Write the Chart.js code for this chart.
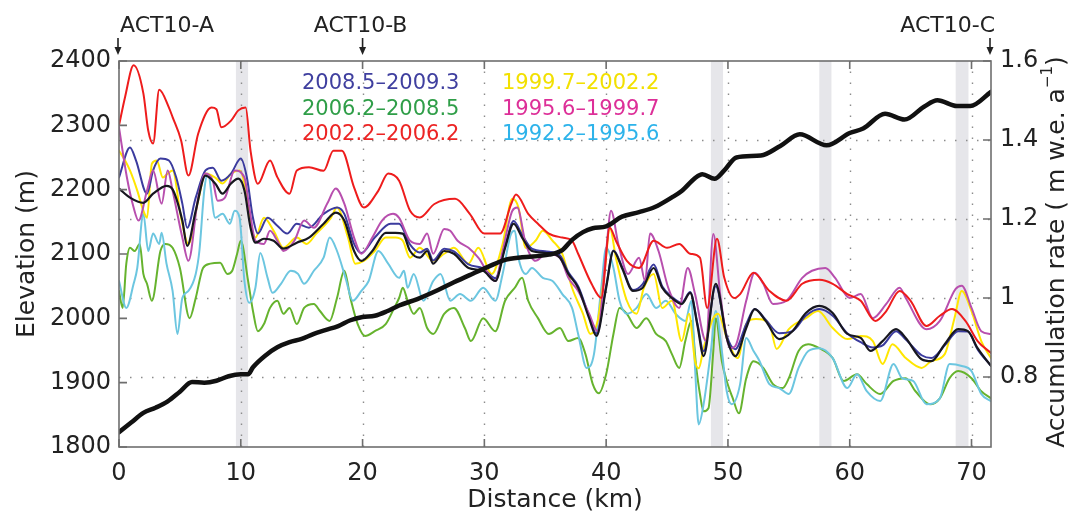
<!DOCTYPE html>
<html><head><meta charset="utf-8">
<script src="https://cdn.jsdelivr.net/npm/chart.js@4"></script>
<style>html,body{margin:0;padding:0;background:#fff}#wrap{width:1072px;height:515px;position:relative}</style>
</head><body><div id="wrap"><canvas id="c"></canvas></div>
<script>
// ---------- data ----------
const xTicks = [0,10,20,30,40,50,60,70];
const elevTicks = [1800,1900,2000,2100,2200,2300,2400];
const accTicks = [0.8,1,1.2,1.4,1.6];
const periods = ['2008.5–2009.3','2006.2–2008.5','2002.2–2006.2','1999.7–2002.2','1995.6–1999.7','1992.2–1995.6'];
const sites = ['ACT10-A','ACT10-B','ACT10-C'];
const siteKm = [0,20,71.6];
const bandsKm = [[9.6,10.6],[48.6,49.6],[57.5,58.5],[68.7,69.75]];

const elevKm = [0,1,2,3,4,5,6,7,8,9,10,10.6,11,12,13,14,15,16,17,18,19,20,21,22,23,24.5,26.2,27.5,29,30.3,31.7,33.1,35.3,36.4,37.2,38.1,38.9,40,41.3,42.7,44,45.4,46.2,47.3,47.9,48.9,49.7,50.7,52.7,54.3,55.9,58.1,60,61.1,62.9,64.5,66.1,67.2,68.8,69.9,71.6];
const elevM = [1823,1838,1853,1861,1871,1886,1901,1900,1903,1910,1913,1913,1924,1942,1955,1963,1968,1976,1982,1988,1997,2002,2004,2011,2020,2030,2044,2056,2069,2080,2091,2095,2099,2106,2122,2134,2140,2143,2158,2165,2173,2188,2198,2218,2224,2217,2230,2250,2253,2268,2286,2269,2288,2295,2318,2309,2329,2339,2330,2330,2352];

const meanKm = [0,0.9,2,2.8,3.9,4.4,5.2,5.6,6.3,7.1,7.9,8.5,9.2,9.8,10.3,10.8,11.2,11.9,12.7,13.5,14.6,15.6,16.8,17.8,18.5,19.3,19.9,20.8,21.9,22.7,23.3,23.9,24.7,25.3,25.8,26.7,27.5,28.7,29.9,30.9,31.7,32.4,33.1,33.9,35.1,36.2,36.9,37.7,38.6,39.2,40,40.6,41.3,42.2,43,43.9,44.6,45.4,46.2,46.9,47.5,48,49,49.9,50.6,51.5,52.2,53.1,54.2,55.3,56.4,57.5,58.6,59.8,60.9,61.7,62.7,63.8,64.6,65.9,66.7,67.8,68.9,69.7,70.5,71.6];
const meanAcc = [1.277,1.254,1.241,1.264,1.284,1.275,1.196,1.132,1.221,1.310,1.290,1.264,1.290,1.302,1.272,1.178,1.140,1.150,1.145,1.125,1.140,1.153,1.188,1.216,1.196,1.119,1.094,1.119,1.165,1.165,1.163,1.119,1.102,1.119,1.087,1.119,1.112,1.076,1.069,1.043,1.127,1.188,1.153,1.119,1.114,1.102,1.061,1.026,0.949,0.904,1.026,1.119,1.076,1.018,1.026,1.076,1.026,1.000,0.985,1.013,0.930,0.853,1.036,0.899,0.853,0.924,0.972,0.942,0.896,0.916,0.962,0.980,0.962,0.909,0.899,0.866,0.891,0.921,0.899,0.845,0.840,0.883,0.921,0.916,0.873,0.828];

const blueKm = [0,0.9,1.4,2.3,2.8,3.4,4.1,4.7,5.2,5.6,6.3,7.1,7.7,8.4,9.2,10,10.5,11,11.4,12.2,13,13.8,14.6,15.6,16.8,17.9,18.5,19.3,19.9,21,22.3,23,23.9,24.7,25.3,25.8,26.7,27.5,28.7,29.9,30.9,31.7,32.4,33.1,33.9,35.1,36.2,36.9,37.7,38.6,39.2,40,40.6,41.3,42.2,43,43.9,44.6,45.4,46.2,46.9,47.5,48,49,49.9,50.6,51.5,52.2,53.1,54.2,55.3,56.4,57.5,58.6,59.8,60.9,61.9,62.7,63.8,64.6,65.9,66.7,67.8,68.9,69.7,70.5,71.6];
const blueAcc = [1.305,1.381,1.348,1.264,1.323,1.353,1.348,1.305,1.239,1.178,1.254,1.323,1.330,1.297,1.315,1.353,1.305,1.203,1.163,1.203,1.183,1.163,1.188,1.178,1.213,1.229,1.213,1.137,1.114,1.153,1.188,1.188,1.135,1.115,1.125,1.095,1.125,1.118,1.085,1.075,1.050,1.130,1.195,1.160,1.125,1.118,1.108,1.065,1.030,0.955,0.910,1.030,1.120,1.080,1.020,1.035,1.085,1.030,1.003,0.988,1.015,0.935,0.865,1.030,0.905,0.870,0.934,0.972,0.945,0.911,0.916,0.955,0.972,0.955,0.911,0.888,0.875,0.880,0.916,0.895,0.855,0.848,0.880,0.916,0.915,0.870,0.828];

const greenKm = [0,0.3,0.6,0.9,1.3,1.7,2,2.3,2.7,3.4,3.8,4.4,5,5.8,6.3,6.9,7.5,8.3,8.9,9.3,9.7,10,10.6,11,11.4,11.9,12.4,13,13.5,14,14.6,15.2,16,16.5,17.3,17.9,18.5,19,19.6,20.2,21,21.9,22.6,23,23.3,23.7,24.2,24.7,25.3,25.8,26.7,27.5,28.4,28.9,29.9,30.9,31.7,32.5,33.1,33.6,34.4,35.3,36.2,36.9,37.7,38.3,38.9,39.4,40,40.6,41.1,41.7,42.5,43.3,44.1,44.9,45.4,46,46.5,47,47.4,47.7,48,48.4,48.8,49,49.5,49.9,50.4,50.9,51.5,52.1,52.9,53.7,54.5,55,55.8,56.6,57.5,58.6,59.5,60.6,61.4,62.5,63.6,64.6,65.4,66.6,67.4,68.2,68.9,70,70.8,71.6];
const greenAcc = [1.018,0.975,1.087,1.127,1.119,1.137,1.061,1.036,0.993,1.119,1.137,1.127,1.076,0.949,1.000,1.076,1.087,1.089,1.061,1.069,1.112,1.145,1.043,0.967,0.916,0.934,0.975,0.993,0.960,0.975,0.934,0.975,0.985,0.967,0.942,1.000,1.069,1.000,0.934,0.904,0.916,0.934,0.975,1.000,1.026,0.993,0.960,0.975,0.924,0.909,0.960,0.975,0.924,0.891,0.949,0.916,0.993,1.026,1.051,0.993,0.949,0.909,0.924,0.891,0.899,0.858,0.782,0.759,0.807,0.909,0.975,0.960,0.924,0.949,0.909,0.891,0.858,0.823,0.891,0.942,0.823,0.757,0.713,0.721,0.866,0.949,0.840,0.790,0.746,0.708,0.797,0.840,0.823,0.782,0.772,0.797,0.866,0.883,0.873,0.848,0.790,0.807,0.782,0.757,0.790,0.797,0.764,0.731,0.746,0.797,0.815,0.797,0.764,0.746];

const redKm = [0,0.5,1.2,2,2.4,2.8,3.3,4.1,4.4,5.1,5.7,6.5,7.6,8,8.4,9.2,9.8,10.4,10.8,11.4,12.4,13,14,14.6,15.6,16.8,17.6,18.3,19.3,20.1,21.3,22.1,23,23.9,24.7,25.9,27.6,28.8,30,31.3,32.2,32.6,33.6,34.4,35.3,36.4,37.2,37.7,38.8,39.6,40.3,40.8,41.7,42.7,43.9,45,46,46.9,47.7,48.3,49.1,49.7,50.5,51,52.1,53.4,54.8,56.1,57.5,58.6,59.8,60.9,62.1,63,64.1,65,66.3,67.4,68.4,69.5,70.5,71.6];
const redAcc = [1.437,1.509,1.589,1.518,1.424,1.391,1.527,1.482,1.458,1.399,1.310,1.416,1.482,1.478,1.432,1.449,1.475,1.482,1.373,1.289,1.348,1.306,1.264,1.323,1.331,1.322,1.373,1.373,1.280,1.229,1.272,1.315,1.297,1.221,1.204,1.238,1.251,1.213,1.163,1.163,1.238,1.262,1.213,1.188,1.163,1.153,1.145,1.112,1.036,1.000,1.178,1.145,1.094,1.076,1.145,1.127,1.137,1.112,1.102,0.975,1.150,1.051,1.000,1.010,1.064,1.018,0.993,1.036,1.046,1.036,1.010,0.993,0.942,0.967,1.018,0.993,0.929,0.955,0.972,0.942,0.891,0.861];

const yellowKm = [0,0.5,0.9,1.5,2,2.3,2.7,3.1,3.6,4,4.4,5.1,5.7,6.5,7.1,7.9,8.5,9.2,9.9,10.3,10.8,11.2,11.9,12.7,13.5,14.6,15.4,16.2,17.4,17.9,18.8,19.4,20.1,21,21.9,22.7,23.3,23.9,24.7,25.8,26.7,27.5,28.7,29.5,30.6,31.5,32.3,32.8,33.4,34.2,34.8,35.6,36.4,37.2,38.1,38.7,39.3,39.9,40.3,40.8,41.7,42.5,43.1,43.9,44.6,45.4,46.2,46.8,47.3,47.6,48,48.8,49.2,49.9,50.8,51.5,52.3,53.4,54,55,56.4,57.4,58.6,59.8,60.9,61.9,62.7,63.5,64.6,65.9,66.7,67.8,68.6,69.2,70,70.8,71.6];
const yellowAcc = [1.373,1.348,1.323,1.272,1.221,1.203,1.340,1.348,1.305,1.315,1.323,1.203,1.137,1.246,1.315,1.305,1.290,1.315,1.323,1.290,1.188,1.153,1.203,1.170,1.127,1.153,1.137,1.163,1.203,1.229,1.153,1.087,1.094,1.119,1.153,1.153,1.145,1.102,1.127,1.094,1.112,1.127,1.087,1.127,1.061,1.137,1.251,1.229,1.127,1.145,1.170,1.145,1.112,1.026,0.960,0.909,0.942,1.076,1.178,1.102,0.993,0.960,1.026,1.061,0.975,0.993,0.891,0.960,0.840,0.822,0.873,0.949,0.960,0.899,0.848,0.934,0.947,0.934,0.871,0.921,0.949,0.967,0.924,0.896,0.904,0.891,0.833,0.883,0.848,0.823,0.840,0.858,0.949,1.018,0.967,0.891,0.848];

const magentaKm = [0,0.65,1.2,1.6,2.3,2.8,3.5,4,4.4,5.2,5.7,6.5,7.1,7.7,8.1,8.7,9.5,10.3,10.7,11.2,11.9,12.4,13,13.5,14.4,15.2,16,17.1,17.8,18.5,19.3,19.9,20.8,21.6,22.5,23,23.9,24.7,25.3,25.8,26.7,27.2,27.8,28.7,29.5,30.9,31.5,32.3,32.7,33.4,34.2,35.1,36.2,36.9,37.7,38.6,39.3,40,40.4,41,41.8,42.7,43.2,43.6,44.3,45.1,46,46.7,47.3,48.2,48.8,49.4,50.2,50.6,51.5,52.2,52.9,53.7,54.8,56.1,56.9,58,58.8,60,60.9,61.9,63,64.1,64.6,66.3,67.4,68.7,69.2,70,70.8,71.6];
const magentaAcc = [1.432,1.305,1.229,1.196,1.272,1.323,1.239,1.323,1.272,1.153,1.094,1.254,1.315,1.297,1.246,1.254,1.323,1.305,1.229,1.145,1.137,1.170,1.145,1.119,1.145,1.196,1.178,1.239,1.277,1.239,1.153,1.112,1.153,1.196,1.213,1.203,1.145,1.137,1.163,1.112,1.175,1.170,1.145,1.127,1.102,1.043,1.119,1.221,1.229,1.137,1.094,1.112,1.102,1.051,1.018,0.960,0.916,1.119,1.221,1.137,1.061,1.102,1.043,1.163,1.119,1.026,0.975,1.076,1.010,0.891,1.162,1.000,0.873,0.878,0.993,1.064,1.036,0.985,0.993,1.051,1.069,1.076,1.051,1.000,1.010,0.949,0.985,1.026,1.000,0.921,0.942,1.023,1.031,0.975,0.916,0.909];

const cyanKm = [0,0.6,1.2,1.5,2,2.4,2.8,3.3,3.5,3.9,4.4,4.8,5.2,5.7,6.3,6.6,7,7.3,7.9,8.5,9.1,9.5,9.9,10.3,10.7,11.2,11.6,12.2,12.6,13.3,14.1,14.7,15.2,16,16.8,17.3,17.9,18.6,19.2,19.9,20.5,21.3,22.1,23,23.4,23.7,24.2,25,25.8,26.4,27.2,28,28.9,29.9,30.9,31.5,32.2,32.5,32.8,33.4,33.9,34.8,35.6,36.4,37.2,37.7,38.4,39,39.6,40,40.6,41.1,41.7,42.5,43.3,44.1,44.9,45.7,46.5,47,47.3,47.6,48,48.6,49,49.5,49.9,50.3,51,51.5,52.1,52.6,53.4,54.2,55,55.8,56.6,57.5,58.6,59.8,60.6,61.4,62.5,63.6,64.3,65.2,66.3,67.4,68.2,69.2,70,70.8,71.6];
const cyanAcc = [1.043,0.975,1.036,1.076,1.213,1.119,1.163,1.137,1.165,1.087,1.018,0.909,1.000,1.018,1.061,1.119,1.272,1.315,1.203,1.213,1.188,1.221,1.203,1.043,0.988,1.026,1.114,1.051,1.013,1.036,1.069,1.061,1.036,1.069,1.102,1.153,1.119,1.051,0.993,1.018,1.043,1.119,1.087,1.051,1.069,1.026,1.061,0.993,1.043,1.061,0.993,1.010,0.993,1.026,0.993,1.061,1.163,1.170,1.102,1.061,1.076,1.051,1.043,1.010,0.975,0.909,0.823,0.858,1.026,1.127,1.076,0.993,0.960,0.975,1.010,0.975,0.993,0.960,0.942,0.993,0.823,0.680,0.731,0.866,0.967,0.866,0.764,0.731,0.782,0.899,0.866,0.840,0.782,0.772,0.757,0.823,0.866,0.873,0.848,0.772,0.807,0.764,0.739,0.833,0.797,0.790,0.731,0.746,0.833,0.828,0.815,0.757,0.739];

// ---------- styling ----------
const FONT = "'DejaVu Sans', 'Liberation Sans', sans-serif";
const TXT = '#222';
const lineColors = ['#3b3b9e','#66b32e','#ee1c1c','#ffe600','#b84fae','#6cc6e0'];
const legendColors = ['#3f3f9f','#2f9e48','#ec2424','#f2e000','#dd2f98','#2db3ea'];
const seriesKm = [blueKm, greenKm, redKm, yellowKm, magentaKm, cyanKm];
const seriesAcc = [blueAcc, greenAcc, redAcc, yellowAcc, magentaAcc, cyanAcc];
const seriesOrder = [4, 7, 2, 5, 3, 6];

function pts(k, v) { return k.map((x, i) => ({ x: x, y: v[i] })); }

const datasets = [];
datasets.push({ label: 'Elevation', data: pts(elevKm, elevM), yAxisID: 'yElev', borderColor: '#111', borderWidth: 4.5, order: 0, cubicInterpolationMode: 'monotone' });
datasets.push({ label: 'Mean', data: pts(meanKm, meanAcc), yAxisID: 'yAcc', borderColor: '#17171f', borderWidth: 2.2, order: 1, cubicInterpolationMode: 'monotone' });
periods.forEach((p, i) => {
  datasets.push({ label: p, data: pts(seriesKm[i], seriesAcc[i]), yAxisID: 'yAcc', borderColor: lineColors[i], borderWidth: 2, order: seriesOrder[i], cubicInterpolationMode: 'monotone' });
});
datasets.forEach(d => { d.pointRadius = 0; d.fill = false; d.borderJoinStyle = 'round'; d.borderCapStyle = 'round'; });

const decor = {
  id: 'decor',
  beforeDatasetsDraw(chart) {
    const { ctx, chartArea: a, scales } = chart;
    const x = scales.x, yA = scales.yAcc;
    ctx.save();
    ctx.fillStyle = '#e6e6ea';
    bandsKm.forEach(b => {
      const x0 = x.getPixelForValue(b[0]), x1 = x.getPixelForValue(b[1]);
      ctx.fillRect(x0, a.top, x1 - x0, a.bottom - a.top);
    });
    ctx.strokeStyle = '#8c8c8c'; ctx.lineWidth = 1.4; ctx.setLineDash([1.5, 9.5]);
    xTicks.forEach(v => {
      if (v <= 0) return;
      const px = Math.round(x.getPixelForValue(v)) + 0.5;
      ctx.beginPath(); ctx.moveTo(px, a.bottom); ctx.lineTo(px, a.top); ctx.stroke();
    });
    accTicks.forEach(v => {
      if (v >= 1.6) return;
      const py = Math.round(yA.getPixelForValue(v)) + 0.5;
      ctx.beginPath(); ctx.moveTo(a.left, py); ctx.lineTo(a.right, py); ctx.stroke();
    });
    ctx.restore();
  },
  afterDatasetsDraw(chart) {
    const { ctx, chartArea: a, scales } = chart;
    const x = scales.x, yE = scales.yElev, yA = scales.yAcc;
    ctx.save();
    // frame
    ctx.strokeStyle = '#6e6e6e'; ctx.lineWidth = 1.6; ctx.setLineDash([]);
    ctx.strokeRect(a.left, a.top, a.right - a.left, a.bottom - a.top);
    // inward ticks
    const TL = 8;
    ctx.beginPath();
    xTicks.forEach(v => {
      const px = x.getPixelForValue(v);
      ctx.moveTo(px, a.bottom); ctx.lineTo(px, a.bottom - TL);
      ctx.moveTo(px, a.top); ctx.lineTo(px, a.top + TL);
    });
    elevTicks.forEach(v => { const py = yE.getPixelForValue(v); ctx.moveTo(a.left, py); ctx.lineTo(a.left + TL, py); });
    accTicks.forEach(v => { const py = yA.getPixelForValue(v); ctx.moveTo(a.right, py); ctx.lineTo(a.right - TL, py); });
    ctx.stroke();

    // legend (coloured text)
    ctx.font = '21px ' + FONT; ctx.textBaseline = 'middle'; ctx.textAlign = 'left';
    const colX = [302, 502], rowY = [84, 110, 135];
    periods.forEach((p, i) => {
      ctx.fillStyle = legendColors[i];
      ctx.fillText(p, colX[Math.floor(i / 3)], rowY[i % 3]);
    });

    // site labels and arrows
    ctx.fillStyle = TXT; ctx.strokeStyle = TXT; ctx.font = '22px ' + FONT;
    siteKm.forEach((km, i) => {
      let px = x.getPixelForValue(km);
      if (i === 0) px -= 1;
      if (i === 2) px -= 1;
      ctx.lineWidth = 1.6;
      ctx.beginPath(); ctx.moveTo(px, 38); ctx.lineTo(px, 49); ctx.stroke();
      ctx.beginPath(); ctx.moveTo(px - 3.5, 47); ctx.lineTo(px + 3.5, 47); ctx.lineTo(px, 55); ctx.closePath(); ctx.fill();
      ctx.textBaseline = 'middle';
      if (i === 0) { ctx.textAlign = 'left'; ctx.fillText(sites[i], px + 2, 26); }
      else if (i === 1) { ctx.textAlign = 'center'; ctx.fillText(sites[i], px - 2, 26); }
      else { ctx.textAlign = 'right'; ctx.fillText(sites[i], px + 5, 26); }
    });

    // axis titles
    ctx.fillStyle = TXT; ctx.font = '25px ' + FONT; ctx.textAlign = 'center'; ctx.textBaseline = 'middle';
    ctx.fillText('Distance (km)', (a.left + a.right) / 2, 500);
    ctx.save(); ctx.translate(27, (a.top + a.bottom) / 2); ctx.rotate(-Math.PI / 2);
    ctx.fillText('Elevation (m)', 0, 0); ctx.restore();
    // right title with superscript
    ctx.save(); ctx.translate(1057, (a.top + a.bottom) / 2 - 2); ctx.rotate(-Math.PI / 2);
    const main = 'Accumulation rate ( m w.e. a', sup = '−1', end = ')';
    ctx.font = '25px ' + FONT; const w1 = ctx.measureText(main).width, w3 = ctx.measureText(end).width;
    ctx.font = '15px ' + FONT; const w2 = ctx.measureText(sup).width;
    let sx = -(w1 + w2 + w3) / 2;
    ctx.textAlign = 'left';
    ctx.font = '25px ' + FONT; ctx.fillText(main, sx, 0); sx += w1;
    ctx.font = '15px ' + FONT; ctx.fillText(sup, sx, -9); sx += w2;
    ctx.font = '25px ' + FONT; ctx.fillText(end, sx, 0);
    ctx.restore();
    ctx.restore();
  }
};

const tickFont = { family: FONT, size: 24 };
new Chart(document.getElementById('c'), {
  type: 'line',
  data: { datasets: datasets },
  options: {
    responsive: true, maintainAspectRatio: false, animation: false, events: [],
    layout: { padding: { top: 61, left: 0, right: 0, bottom: 0 } },
    plugins: { legend: { display: false }, tooltip: { enabled: false }, title: { display: false } },
    scales: {
      x: {
        type: 'linear', min: 0, max: 71.6,
        grid: { display: false, drawTicks: false }, border: { display: false },
        ticks: { stepSize: 10, includeBounds: false, autoSkip: false, maxRotation: 0, padding: 12, color: TXT, font: tickFont,
          callback: v => String(v) },
        afterFit(s) { s.height = 68; }
      },
      yElev: {
        type: 'linear', position: 'left', min: 1800, max: 2400,
        grid: { display: false, drawTicks: false }, border: { display: false },
        ticks: { stepSize: 100, includeBounds: false, padding: 8, color: TXT, font: tickFont,
          callback: v => String(Math.round(v)) },
        afterFit(s) { s.width = 119; }
      },
      yAcc: {
        type: 'linear', position: 'right', min: 0.6228, max: 1.6,
        grid: { display: false, drawTicks: false }, border: { display: false },
        ticks: { stepSize: 0.2, includeBounds: false, padding: 9, color: TXT, font: tickFont,
          callback: v => String(+Number(v).toFixed(1)) },
        afterFit(s) { s.width = 81; }
      }
    }
  },
  plugins: [decor]
});
</script>
</body></html>
